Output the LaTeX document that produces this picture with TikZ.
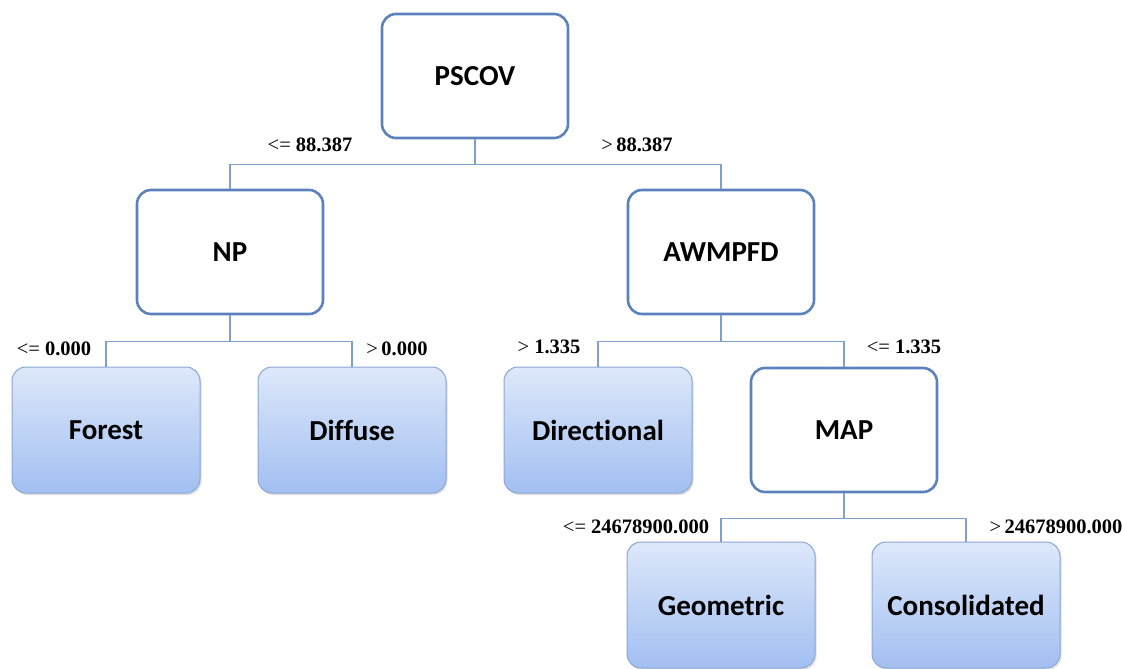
\documentclass[tikz,border=0pt]{standalone}
\usepackage{fontspec}
\setmainfont{Liberation Serif}
\newfontfamily\boxfont[Ligatures=NoCommon]{Carlito}
\usetikzlibrary{shadows}
\definecolor{splitblue}{HTML}{5B82BC}
\definecolor{linkblue}{HTML}{7F9FCF}
\definecolor{leaftop}{HTML}{DDE8FA}
\definecolor{leafbot}{HTML}{A2BFF1}
\definecolor{leafedge}{HTML}{8AA6D4}
\tikzset{
  split/.style={draw=splitblue,line width=2.6pt,fill=white,rounded corners=14pt,
    minimum width=186pt,minimum height=124pt,font=\boxfont\bfseries\fontsize{29}{30}\selectfont},
  leaf/.style={draw=leafedge,line width=1pt,top color=leaftop,bottom color=leafbot,
    rounded corners=14pt,minimum width=188pt,minimum height=126pt,
    drop shadow={shadow xshift=1.5pt,shadow yshift=-2pt,opacity=0.25},
    font=\boxfont\bfseries\fontsize{29}{30}\selectfont},
  link/.style={draw=linkblue,line width=1.4pt},
  cond/.style={font=\fontsize{20.5}{21}\selectfont,inner sep=0pt}
}
\begin{document}
\begin{tikzpicture}[x=1pt,y=-1pt]
\useasboundingbox (0,0) rectangle (1122,669);
% split nodes
\node[split] (pscov) at (475,76) {PSCOV};
\node[split] (np) at (230,252) {NP};
\node[split] (awmpfd) at (721,252) {AWMPFD};
\node[split] (map) at (844,430) {MAP};
% leaves
\node[leaf] (forest) at (106,430) {Forest};
\node[leaf] (diffuse) at (352,430) {Diffuse};
\node[leaf] (directional) at (598,430) {Directional};
\node[leaf] (geometric) at (721,605) {Geometric};
\node[leaf] (consolidated) at (966,605) {Consolidated};
% links
\draw[link] (pscov.south) -- ++(0,25) -| (np.north);
\draw[link] (pscov.south) -- ++(0,25) -| (awmpfd.north);
\draw[link] (np.south) -- ++(0,26) -| (forest.north);
\draw[link] (np.south) -- ++(0,26) -| (diffuse.north);
\draw[link] (awmpfd.south) -- ++(0,26) -| (directional.north);
\draw[link] (awmpfd.south) -- ++(0,26) -| (map.north);
\draw[link] (map.south) -- ++(0,25) -| (geometric.north);
\draw[link] (map.south) -- ++(0,25) -| (consolidated.north);
% split conditions
\node[cond] (c1) at (310,145) {<=~\textbf{88.387}};
\node[cond] (c2) at (637,145) {>\,\textbf{88.387}};
\node[cond] (c3) at (54,349) {<=~\textbf{0.000}};
\node[cond] (c4) at (397,349) {>\,\textbf{0.000}};
\node[cond] (c5) at (549,347) {>~\textbf{1.335}};
\node[cond] (c6) at (904,347) {<=~\textbf{1.335}};
\node[cond] (c7) at (636,527) {<=~\textbf{24678900.000}};
\node[cond] (c8) at (1056,527) {>\,\textbf{24678900.000}};
\end{tikzpicture}
\end{document}
